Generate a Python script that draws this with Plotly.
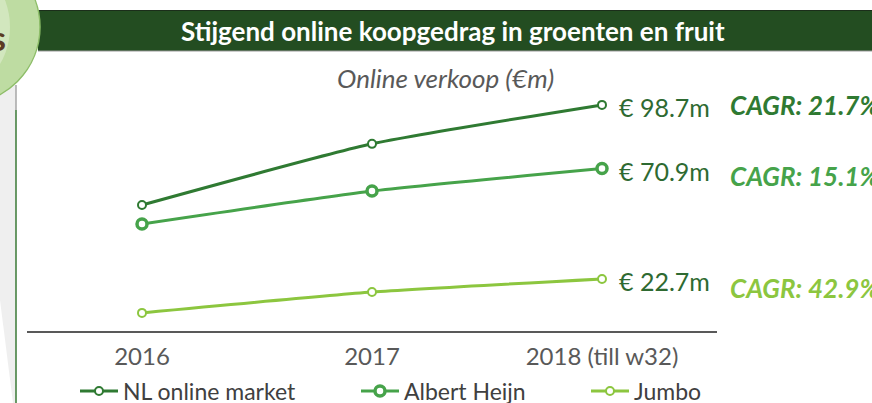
import plotly.graph_objects as go

# ---- data ----
years = ["2016", "2017", "2018 (till w32)"]
nl_online = [55.0, 81.7, 98.7]
albert_heijn = [46.7, 61.1, 70.9]
jumbo = [7.9, 17.0, 22.7]
series_names = ["NL online market", "Albert Heijn", "Jumbo"]
cagr = ["21.7%", "15.1%", "42.9%"]
title_text = "Stijgend online koopgedrag in groenten en fruit"
subtitle_text = "Online verkoop (€m)"

# ---- layout geometry (pixels) ----
WIDTH, HEIGHT = 872, 403
L, R, T, B = 27, 155, 60, 72
PW = WIDTH - L - R
PH = HEIGHT - T - B
Y_MAX = 118.3


def px(xp):
    return (xp - L) / PW


def py(yp):
    return (HEIGHT - B - yp) / PH


FONT = "Lato"
c_nl, c_ah, c_jb = "#2f7a32", "#46a34a", "#8cc63f"
colors = [c_nl, c_ah, c_jb]
values = [nl_online, albert_heijn, jumbo]
msize = [8, 10, 8]
mline = [2, 3.5, 2]

fig = go.Figure()
for i, (name, vals) in enumerate(zip(series_names, values)):
    fig.add_trace(go.Scatter(
        x=years, y=vals, name=name, mode="lines+markers",
        line=dict(color=colors[i], width=3, shape="spline", smoothing=0.5),
        marker=dict(symbol="circle", size=msize[i], color="white",
                    line=dict(color=colors[i], width=mline[i])),
        legend=["legend", "legend2", "legend3"][i],
        hoverinfo="skip",
    ))

shapes = []
# left grey strip
shapes.append(dict(type="path", xref="paper", yref="paper",
                   path=f"M {px(0)},{py(85)} L {px(16)},{py(85)} L {px(16)},{py(403)} L {px(13)},{py(403)} L {px(0)},{py(300)} Z",
                   fillcolor="#efefef", line=dict(width=0), layer="above"))
shapes.append(dict(type="line", xref="paper", yref="paper", x0=px(16), x1=px(16), y0=py(85), y1=py(110),
                   line=dict(color="#a6a6a6", width=1.5)))
shapes.append(dict(type="line", xref="paper", yref="paper", x0=px(16), x1=px(16), y0=py(110), y1=py(403),
                   line=dict(color="#3a7a36", width=1.5)))
# header bar
shapes.append(dict(type="rect", xref="paper", yref="paper", x0=px(38), x1=px(880), y0=py(51), y1=py(10),
                   fillcolor="#234d21", line=dict(width=0)))
shapes.append(dict(type="line", xref="paper", yref="paper", x0=px(38), x1=px(880), y0=py(51), y1=py(51),
                   line=dict(color="#9a9a9a", width=1)))
shapes.append(dict(type="line", xref="paper", yref="paper", x0=px(38), x1=px(880), y0=py(10.5), y1=py(10.5),
                   line=dict(color="#1b2e1a", width=1)))
# circle badge
cx, cy, r = -37, 27, 77
shapes.append(dict(type="circle", xref="paper", yref="paper", x0=px(cx - r), x1=px(cx + r), y0=py(cy + r), y1=py(cy - r),
                   fillcolor="#bedca2", line=dict(color="#8dbd68", width=1.5)))
shapes.append(dict(type="circle", xref="paper", yref="paper", x0=px(cx - r + 4), x1=px(cx + r - 30), y0=py(cy + r - 10), y1=py(cy - r + 10),
                   fillcolor="rgba(235,245,225,0.45)", line=dict(width=0)))

annotations = []
annotations.append(dict(xref="paper", yref="paper", x=px(453), y=py(31), text=f"<b>{title_text}</b>",
                        showarrow=False, font=dict(family=FONT, size=26, color="white"),
                        xanchor="center", yanchor="middle"))
annotations.append(dict(xref="paper", yref="paper", x=px(8), y=py(37), text="<b>s</b>",
                        showarrow=False, font=dict(family=FONT, size=34, color="#5b3b25"),
                        xanchor="right", yanchor="middle"))
annotations.append(dict(xref="paper", yref="paper", x=px(445), y=py(78), text=f"<i>{subtitle_text}</i>",
                        showarrow=False, font=dict(family=FONT, size=26, color="#595959"),
                        xanchor="center", yanchor="middle"))
yshift_cagr = [0, -7, -9]
for i, vals in enumerate(values):
    annotations.append(dict(xref="x", yref="y", x=years[-1], y=vals[-1], text=f"€ {vals[-1]}m",
                            showarrow=False, xanchor="left", yanchor="middle", xshift=15, yshift=-2,
                            font=dict(family=FONT, size=25, color="#2e6a31")))
    annotations.append(dict(xref="x", yref="y", x=years[-1], y=vals[-1], text=f"<b><i>CAGR: {cagr[i]}</i></b>",
                            showarrow=False, xanchor="left", yanchor="middle", xshift=126, yshift=yshift_cagr[i],
                            font=dict(family=FONT, size=26, color=colors[i])))

leg_common = dict(orientation="h", yanchor="middle", y=py(391), xanchor="left", itemwidth=38,
                  font=dict(family=FONT, size=23, color="#404040"), bgcolor="rgba(0,0,0,0)",
                  itemclick=False, itemdoubleclick=False)
fig.update_layout(
    width=WIDTH, height=HEIGHT,
    margin=dict(l=L, r=R, t=T, b=B, autoexpand=False),
    paper_bgcolor="white", plot_bgcolor="white",
    font=dict(family=FONT),
    showlegend=True,
    legend=dict(x=px(75), **leg_common),
    legend2=dict(x=px(356), **leg_common),
    legend3=dict(x=px(586), **leg_common),
    xaxis=dict(type="category", range=[-0.5, 2.5], showline=True, linecolor="#595959", linewidth=2,
               showgrid=False, zeroline=False, ticks="outside", ticklen=3, tickcolor="rgba(0,0,0,0)",
               tickfont=dict(family=FONT, size=24, color="#595959")),
    yaxis=dict(range=[0, Y_MAX], visible=False, showgrid=False, zeroline=False),
    shapes=shapes,
    annotations=annotations,
)

fig.write_html("out.html", config={"displayModeBar": False},
               post_script="document.body.style.margin='0px';")
